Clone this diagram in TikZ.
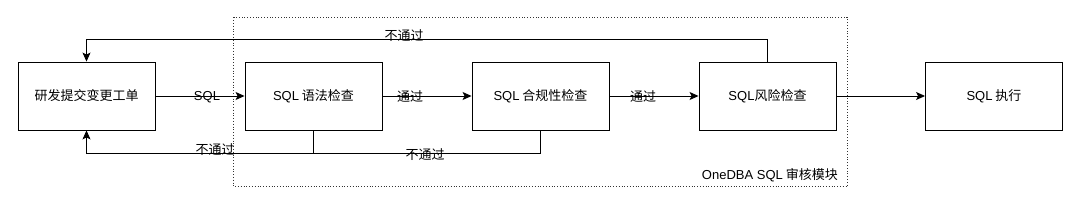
\documentclass[tikz,border=0pt]{standalone}
\usepackage{fontspec}
\setmainfont{Noto Sans CJK SC}
\newfontfamily\latf{Liberation Sans}
\usetikzlibrary{arrows.meta}
\begin{document}
\begin{tikzpicture}[x=1pt,y=1pt,
  box/.style={draw, line width=0.9pt, minimum width=137pt, minimum height=68pt, inner sep=0pt, font=\fontsize{13}{15}\selectfont},
  lbl/.style={font=\fontsize{13}{15}\selectfont, inner sep=0pt},
  arr/.style={line width=0.9pt, -{Stealth[length=9pt,width=8pt,inset=2pt]}},
  ln/.style={line width=0.9pt}]
\useasboundingbox (0,0) rectangle (1080,-206);
\draw[dotted, line width=0.8pt, black!80] (233.7,-17.3) rectangle (847,-186.7);
\node[box] (b1) at (86.5,-96) {研发提交变更工单};
\node[box] (b2) at (313.5,-96) {{\latf SQL} 语法检查};
\node[box] (b3) at (540.5,-96) {{\latf SQL} 合规性检查};
\node[box] (b4) at (767.5,-96) {{\latf SQL}风险检查};
\node[box] (b5) at (994,-96) {{\latf SQL} 执行};
\draw[arr] (b1) -- (b2);
\draw[arr] (b2) -- (b3);
\draw[arr] (b3) -- (b4);
\draw[arr] (b4) -- (b5);
\draw[arr] (b4.north) -- ++(0,22) -| (b1.north);
\coordinate (j) at ([yshift=-23pt]b2.south);
\draw[arr] (b2.south) -- (j) -| (b1.south);
\draw[ln] (b3.south) |- (j);
\node[lbl] (l1) at (207,-97) {\latf SQL};
\node[lbl] (l2) at (410,-97) {通过};
\node[lbl] (l3) at (643,-97) {通过};
\node[lbl] (l4) at (404,-36) {不通过};
\node[lbl] (l5) at (215,-150) {不通过};
\node[lbl] (l6) at (425,-155) {不通过};
\node[lbl, anchor=east] (l7) at (838,-175) {{\latf OneDBA SQL} 审核模块};
\end{tikzpicture}
\end{document}
